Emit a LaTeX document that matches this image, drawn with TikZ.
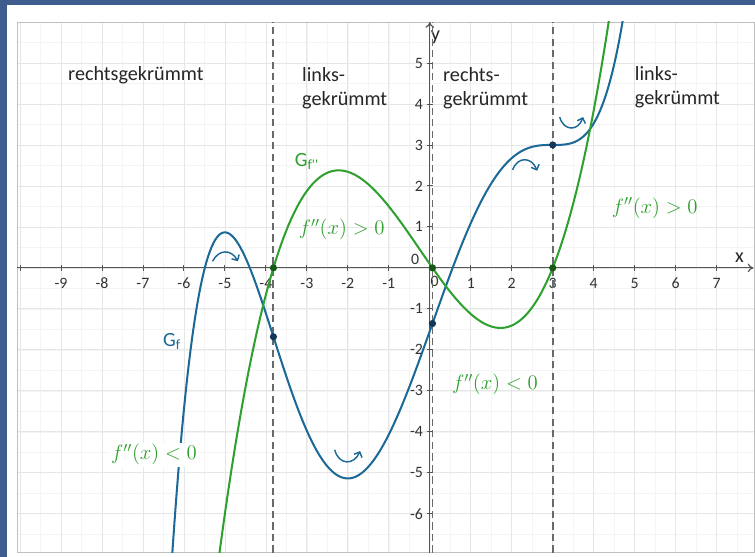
\documentclass[tikz,border=0pt]{standalone}
\usepackage{fontspec}
\usepackage{amsmath}
\usetikzlibrary{arrows.meta}
\newfontfamily\ggbfont{Carlito}
\definecolor{fblue}{RGB}{28,104,150}
\definecolor{fgreen}{RGB}{45,160,45}
\definecolor{dotblue}{RGB}{20,55,85}
\definecolor{dotgreen}{RGB}{20,90,20}
\definecolor{framecol}{RGB}{62,92,140}
\definecolor{gridmajor}{RGB}{230,230,230}
\definecolor{gridminor}{RGB}{244,244,244}
\definecolor{axisgray}{RGB}{85,85,85}
\definecolor{dashgray}{RGB}{105,105,105}

\begin{document}
\begin{tikzpicture}[
    declare function={
      ff(\x)=3+(\x-3)*(\x-3)*(\x-3)*((\x-3)*(\x-3)/5+13*(\x-3)/4+40/3)/32;
      ffpp(\x)=(\x-3)*(4*\x*\x+15*\x-1)/32;
    },
    curvef/.style={fblue, line width=1.4pt},
    curvefpp/.style={fgreen, line width=1.4pt},
    bendarrow/.style={fblue, line width=1pt, -{Straight Barb[length=3pt,width=6pt]}},
    region/.style={font=\ggbfont\fontsize{14}{16.5}\selectfont, align=left, text=black!85, inner sep=0pt, anchor=west},
    ticklabel/.style={font=\ggbfont\fontsize{11}{12}\selectfont, text=black!80, inner sep=0pt},
    condlabel/.style={fgreen, font=\fontsize{14}{16}\selectfont, inner sep=1pt},
    turnline/.style={dashgray, dash pattern=on 5pt off 3pt, line width=1.3pt},
    infldot/.style={circle, inner sep=0pt, minimum size=5pt}
  ]
  % frame and graphics view
  \fill[framecol] (-10.488,-7.049) rectangle (7.927,6.537);
  \fill[white] (-10.317,-7.049) rectangle (7.927,6.415);
  \draw[gridminor, line width=0.4pt, step=0.5] (-10.07,-6.95) grid (7.927,6);
  \draw[gridmajor, line width=0.5pt, step=1] (-10.07,-6.95) grid (7.927,6);
  \draw[gray!50] (-10.07,-6.95) rectangle (7.927,6);

  % axes
  \coordinate (xstart) at (-10.07,0);
  \coordinate (xend) at (7.9,0);
  \coordinate (ystart) at (0,-6.95);
  \coordinate (yend) at (0,6);
  \draw[axisgray, line width=0.8pt, -{To[length=4pt,width=6pt]}] (xstart) -- (xend);
  \draw[axisgray, line width=0.8pt, -{To[length=4pt,width=6pt]}] (ystart) -- (yend);
  \node[font=\ggbfont\fontsize{14}{16}\selectfont, text=black!85] (xname) at (7.56,0.24) {x};
  \node[font=\ggbfont\fontsize{14}{16}\selectfont, text=black!85] (yname) at (0.14,5.62) {y};
  \foreach \x in {-10,...,7}
    \draw[axisgray, line width=0.6pt] (\x,-0.07) -- (\x,0.07);
  \foreach \y in {-6,...,5}
    \draw[axisgray, line width=0.6pt] (-0.07,\y) -- (0.07,\y);
  \foreach \x in {-9,...,-1,1,2,...,7}
    \node[ticklabel] (xt\x) at (\x,-0.37) {\x};
  \foreach \y in {-6,...,-1,1,2,...,5}
    \node[ticklabel, anchor=east] (yt\y) at (-0.16,\y) {\y};
  \node[ticklabel] (zeroa) at (-0.36,0.2) {0};
  \node[ticklabel] (zerob) at (0.12,-0.32) {0};

  % zeros of f''
  \foreach \t in {-3.8155,0.0655,3}
    \draw[turnline] (\t,-6.95) -- (\t,6);

  % graphs
  \begin{scope}
    \clip (-10.07,-6.95) rectangle (7.927,6);
    \draw[curvef] plot[domain=-6.4:4.8, samples=260] (\x,{ff(\x)});
    \draw[curvefpp] plot[domain=-5.3:4.45, samples=260] (\x,{ffpp(\x)});
  \end{scope}

  % inflection points
  \foreach \t/\n in {-3.8155/a,0.0655/b,3/c} {
    \node[infldot, fill=dotgreen] (zp\n) at (\t,0) {};
    \node[infldot, fill=dotblue] (wp\n) at (\t,{ff(\t)}) {};
  }

  % bending arrows
  \draw[bendarrow] (-5.3,0.16) .. controls (-5.15,0.46) and (-4.85,0.46) .. (-4.68,0.16);
  \draw[bendarrow] (-2.32,-4.44) .. controls (-2.22,-4.82) and (-1.85,-4.82) .. (-1.7,-4.47);
  \draw[bendarrow] (2.02,2.39) .. controls (2.14,2.72) and (2.48,2.72) .. (2.62,2.37);
  \draw[bendarrow] (3.17,3.68) .. controls (3.27,3.33) and (3.62,3.33) .. (3.74,3.68);

  % labels
  \node[fblue, font=\ggbfont\fontsize{14}{16}\selectfont] (gf) at (-6.29,-1.8) {G\textsubscript{f}};
  \node[fgreen, font=\ggbfont\fontsize{14}{16}\selectfont] (gfpp) at (-3.0,2.59) {G\textsubscript{f''}};
  \node[condlabel, fill=white] (neg1) at (-6.73,-4.56) {$f''(x) < 0$};
  \node[condlabel] (pos1) at (-2.15,0.93) {$f''(x) > 0$};
  \node[condlabel] (neg2) at (1.59,-2.85) {$f''(x) < 0$};
  \node[condlabel] (pos2) at (5.49,1.46) {$f''(x) > 0$};

  \node[region] (r1) at (-8.83,4.71) {rechtsgekrümmt};
  \node[region] (r2) at (-3.12,4.38) {links-\\gekrümmt};
  \node[region] (r3) at (0.32,4.38) {rechts-\\gekrümmt};
  \node[region] (r4) at (5.0,4.4) {links-\\gekrümmt};
\end{tikzpicture}
\end{document}
